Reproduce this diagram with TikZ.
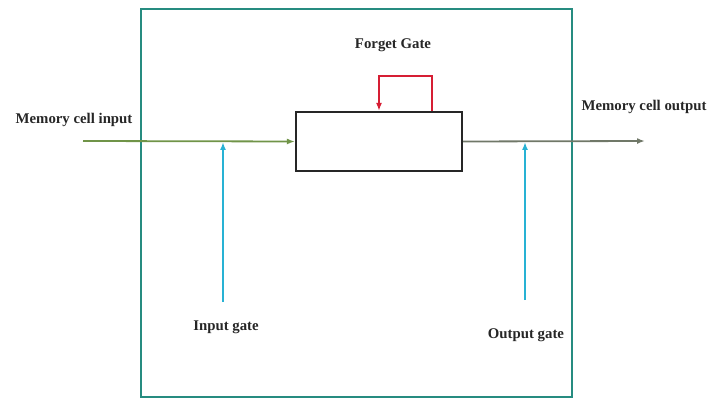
\documentclass[tikz,border=0pt]{standalone}
\usepackage{fontspec}
\setmainfont{Liberation Serif}
\usetikzlibrary{arrows.meta,positioning}
\definecolor{frameTeal}{RGB}{38,140,128}
\definecolor{lineGreen}{RGB}{112,148,72}
\definecolor{lineGray}{RGB}{112,120,104}
\definecolor{gateCyan}{RGB}{40,178,212}
\definecolor{loopRed}{RGB}{214,30,52}

\begin{document}
\begin{tikzpicture}[x=1pt,y=-1pt,font=\bfseries\fontsize{14.8}{16}\selectfont,
  cellbox/.style={draw=black!85,line width=2.2pt,minimum width=166pt,minimum height=59pt,inner sep=0pt},
  label/.style={inner sep=1pt,text=black!85},
  gate/.style={draw=gateCyan,line width=2.2pt,-{Latex[length=8pt,width=6pt]}},
  flow/.style={line width=1.8pt,-{Latex[length=8pt,width=6pt]}}]
\useasboundingbox (0,0) rectangle (709,398);
% outer frame of the memory block
\draw[frameTeal,line width=2.4pt] (141,9) rectangle (572,397);
\node[cellbox] (cell) at (379,141.5) {};
\coordinate (inS) at (83,141);
\coordinate (outE) at (645,141);
\coordinate (igS) at (223,302);
\coordinate (igE) at (223,142);
\coordinate (ogS) at (525,300);
\coordinate (ogE) at (525,142);
% cell input and output
\draw[flow,draw=lineGreen] (inS) -- (cell.west);
\draw[flow,draw=lineGray] (cell.east) -- (outE);
% gates
\draw[gate] (igS) -- (igE);
\draw[gate] (ogS) -- (ogE);
% forget loop
\draw[loopRed,line width=2.2pt,-{Latex[length=8pt,width=6pt]}] ([xshift=53pt]cell.north) -- ++(0,-35) -| (cell.north);
\node[label] (fgLbl) at (393,45) {Forget Gate};
\node[label] (inLbl) at (74,120) {Memory cell input};
\node[label] (outLbl) at (644,107) {Memory cell output};
\node[label] (igLbl) at (226,327) {Input gate};
\node[label] (ogLbl) at (526,335) {Output gate};
\end{tikzpicture}
\end{document}
